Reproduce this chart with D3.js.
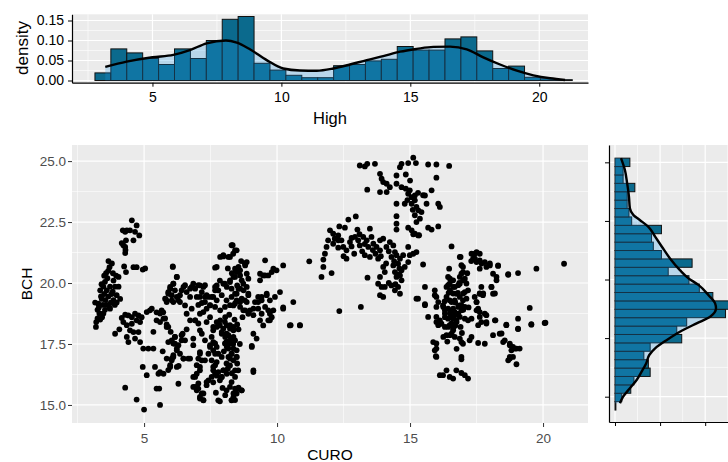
<!DOCTYPE html>
<html>
<head>
<meta charset="utf-8">
<script src="https://cdn.jsdelivr.net/npm/d3@7"></script>
<style>
  body { margin: 0; background: #fff; }
  svg { display: block; font-family: "Liberation Sans", Arial, Helvetica, sans-serif; }
</style>
</head>
<body>
<svg id="chart" width="728" height="462"></svg>
<script>
// ---- Histogram of "High" (30 bins) ----
const highBinStart = 2.77;
const highBinWidth = 0.617;
const highDensity = [0.019, 0.079, 0.069, 0.055, 0.040, 0.079, 0.055, 0.100, 0.153, 0.160,
                     0.043, 0.026, 0.013, 0.007, 0.007, 0.037, 0.040, 0.049, 0.053, 0.085,
                     0.076, 0.076, 0.104, 0.109, 0.074, 0.030, 0.036, 0.008, 0.0045, 0.002];
// kernel density estimate of "High"
const highCurveX = [3.17, 4.0, 5.0, 5.81, 6.45, 7.1, 7.85, 8.27, 8.78, 9.43, 10.07, 10.72, 11.37,
                    12.01, 12.66, 13.31, 13.95, 14.6, 15.25, 15.89, 16.54, 17.19, 17.83, 18.48,
                    19.13, 19.77, 20.42, 21.0];
const highCurveD = [0.034, 0.047, 0.058, 0.064, 0.076, 0.093, 0.1, 0.0946, 0.078, 0.051, 0.030, 0.025, 0.0245,
                    0.030, 0.040, 0.051, 0.061, 0.072, 0.079, 0.084, 0.0846, 0.078, 0.058, 0.040,
                    0.0245, 0.013, 0.0055, 0.0013];

// ---- Histogram of BCH (30 bins, low to high) ----
const bchBinStart = 14.43;
const bchBinWidth = 0.3583;
const bchDensity = [0.002, 0.015, 0.035, 0.042, 0.078, 0.074, 0.064, 0.078, 0.148, 0.137,
                    0.159, 0.245, 0.270, 0.217, 0.187, 0.164, 0.118, 0.171, 0.103, 0.085,
                    0.081, 0.103, 0.037, 0.031, 0.027, 0.027, 0.044, 0.018, 0.018, 0.033];
const bchCurveV = [14.72, 15.0, 15.36, 15.71, 16.07, 16.42, 16.78, 17.06, 17.42, 17.77, 18.13, 18.41,
                   18.77, 18.98, 19.34, 19.77, 20.05, 20.4, 20.9, 21.4, 21.83, 22.25, 22.54, 22.75,
                   23.04, 23.53, 24.1, 24.67, 25.18];
const bchCurveD = [0.011, 0.018, 0.033, 0.048, 0.059, 0.069, 0.076, 0.089, 0.115, 0.144, 0.181, 0.211,
                   0.224, 0.222, 0.207, 0.185, 0.163, 0.144, 0.122, 0.104, 0.089, 0.074, 0.055, 0.041,
                   0.033, 0.031, 0.027, 0.022, 0.0133];

// ---- Scatter: [CURO, BCH] ----
const curoBch = [
  [3.19,18.2],[3.2,18.4],[3.25,18.55],[3.32,18.75],[3.16,19.2],[3.28,19.15],[3.41,19.35],[3.35,19.7],[3.47,19.85],[3.4,19.95],
  [3.53,20.05],[3.62,20.2],[3.57,20.4],[3.7,20.65],[3.66,20.9],[3.72,19.85],[3.78,19.55],[3.85,19.3],[3.66,19.45],[3.6,19.1],
  [3.72,18.95],[3.9,19.1],[3.97,19.2],[3.85,20.1],[3.95,20.3],[3.91,19.85],[4.04,19.85],[3.91,17.92],[4.07,18.1],[4.04,20.25],
  [3.35,18.5],[3.47,18.75],[3.53,18.9],[3.97,19.5],[4.1,19.35],[3.83,20.4],[3.79,20.8],[3.5,19.55],[3.6,19.7],[3.3,19.0],
  [3.45,19.1],[3.75,19.2],[3.55,19.3],[3.38,19.45],[3.5,20.3],[3.65,20.5],[3.82,19.65],[3.7,19.0],[3.25,18.9],[3.42,18.6],
  [4.16,21.64],[4.29,22.1],[4.2,22.16],[4.35,22.16],[4.47,22.16],[4.32,21.75],[4.29,21.48],[4.29,21.23],[4.25,20.68],[4.32,20.45],
  [4.54,22.57],[4.72,22.36],[4.66,22.1],[4.82,21.95],[4.6,21.75],[4.6,20.65],[4.72,20.65],[4.95,20.55],[5.04,20.6],[4.3,21.35],[4.22,21.55],
  [4.16,18.57],[4.29,18.7],[4.41,18.67],[4.54,18.6],[4.66,18.74],[4.79,18.67],[4.91,18.6],[4.22,18.4],[4.35,18.27],[4.54,18.33],
  [4.72,18.47],[4.85,18.4],[4.47,18.06],[4.6,17.99],[4.35,17.79],[4.66,17.72],[4.85,17.58],[4.97,17.31],[5.16,17.31],[5.35,17.31],
  [4.41,17.58],[4.79,17.99],[5.1,18.81],[5.29,18.95],[4.29,15.71],[4.72,15.22],[5.0,14.81],[4.95,16.56],[5.1,16.22],
  [5.22,18.88],[5.47,18.8],[5.6,18.75],[5.72,18.8],[5.79,18.55],[5.6,18.4],[5.47,18.47],[5.35,18.0],[5.85,18.3],[5.91,18.2],
  [5.41,16.56],[5.54,16.28],[5.6,16.35],[5.73,16.28],[5.47,15.67],[5.57,15.67],[5.6,15.0],[5.91,16.43],[5.98,16.56],[6.04,16.83],
  [6.1,16.97],[6.29,15.87],[5.91,17.58],[6.04,17.65],[6.16,17.51],[6.16,17.79],[6.23,17.31],[6.35,17.1],[6.41,17.65],[6.45,17.92],
  [6.54,17.65],[6.66,16.9],[6.48,16.9],[5.7,17.2],[5.85,16.9],[6.3,16.6],[6.0,18.0],[6.6,18.1],
  [6.08,20.66],[6.23,20.25],[5.98,19.84],[5.91,19.63],[5.83,19.32],[6.04,19.5],[6.1,19.97],[6.16,19.7],[6.1,19.22],[6.29,19.29],
  [6.35,19.5],[6.48,19.84],[6.6,19.63],[6.79,19.84],[6.92,19.77],[6.73,19.43],[6.54,19.08],[6.6,18.74],[6.79,18.95],[6.98,19.43],
  [7.1,19.9],[7.23,19.84],[7.04,19.1],[7.17,19.18],[7.29,19.43],[6.92,18.47],[7.1,18.74],[7.23,18.81],[7.35,18.95],[7.48,19.08],
  [7.42,19.43],[7.6,19.43],[7.67,19.7],[7.73,19.9],[7.85,20.1],[7.98,19.97],[7.73,20.66],[7.86,21.07],[7.98,21.14],[8.23,21.07],
  [8.33,21.55],[8.48,21.34],[8.35,21.2],[8.42,20.59],[8.55,20.66],[8.8,20.72],[8.86,20.86],[8.48,20.45],[8.61,20.31],[8.67,20.11],
  [8.36,20.25],[8.23,20.04],[8.11,19.84],[8.29,19.77],[8.42,19.56],[8.55,19.77],[8.74,19.7],[8.86,19.84],[8.92,19.5],[8.86,19.22],
  [8.67,19.36],[8.48,19.29],[8.36,19.08],[8.61,19.02],[8.8,18.88],[8.98,18.88],[9.11,18.95],[9.17,19.22],[9.29,19.43],[9.42,19.29],
  [9.61,19.5],[9.55,19.02],[9.29,18.95],[9.42,18.74],[9.73,18.74],[9.48,18.26],[9.67,18.47],[9.8,18.6],[9.86,18.88],[9.73,19.29],
  [9.92,19.43],[9.36,20.11],[9.48,20.31],[9.67,20.31],[9.55,20.93],[9.8,20.45],[9.98,20.52],[10.23,20.72],[10.11,19.63],[10.23,18.95],
  [10.48,18.26],[10.61,19.22],[10.86,18.26],[9.11,17.92],[9.05,17.42],[9.11,16.42],
  [7.6,18.2],[7.73,18.4],[7.85,18.26],[7.98,18.13],[8.11,18.26],[8.23,18.13],[8.36,18.2],[7.92,17.92],[8.05,17.79],[8.17,17.86],
  [8.29,17.72],[8.42,17.65],[8.23,17.51],[8.11,17.38],[8.36,17.31],[8.48,17.24],[8.29,17.1],[8.17,16.97],[8.36,16.83],[8.48,16.97],
  [8.23,16.62],[8.42,16.42],[8.11,16.28],[7.92,16.15],[7.98,16.42],[7.85,16.01],[7.73,16.2],[7.6,15.93],[8.42,15.67],[8.55,15.71],
  [8.67,15.6],[8.36,15.47],[8.29,15.2],[8.42,15.2],[7.6,17.58],[7.48,17.38],[7.73,17.38],[7.67,17.1],[7.54,16.83],[7.42,17.1],
  [7.29,16.83],[7.17,16.83],[7.1,17.1],[7.1,16.56],[6.98,16.28],[6.85,16.15],[6.92,15.74],[7.04,15.67],[7.17,15.47],[7.1,15.26],
  [7.23,15.2],[7.35,15.81],[7.42,16.01],[7.85,15.15],[7.6,16.42],[7.67,16.63],[7.17,17.92],[7.29,17.65],[7.35,18.4],[7.48,18.6],
  [8.05,18.6],[8.2,18.7],[8.4,18.5],[8.5,18.3],[8.1,17.6],[8.35,17.5],[8.0,17.2],[8.15,16.5],[8.3,16.3],[7.95,15.7],
  [8.05,15.4],[7.7,15.5],[8.5,16.7],[8.6,17.5],[8.55,18.1],[8.7,18.6],[8.5,19.9],[8.3,20.4],[8.15,20.6],[8.65,20.9],
  [8.29,21.55],[8.42,21.34],[7.98,21.09],[8.17,21.07],[7.67,20.63],[6.08,20.68],[6.23,20.25],[6.1,19.97],[5.98,19.77],[5.91,19.56],
  [5.79,19.36],[5.85,19.22],[6.04,19.29],[6.23,19.43],[6.35,19.22],[6.41,19.7],[6.54,19.91],[6.73,19.77],[6.85,19.97],[7.04,19.91],
  [7.29,19.91],[7.67,19.84],[7.79,19.7],[8.04,19.97],[8.23,20.11],[8.42,20.25],[8.61,20.52],[8.79,20.8],[8.86,20.38],[8.92,20.18],
  [8.73,19.97],[8.61,19.77],[8.48,19.56],[8.29,19.43],[8.1,19.29],[7.92,19.5],[7.73,19.29],[7.54,19.43],[7.35,19.5],[7.17,19.63],
  [7.1,19.43],[7.29,19.22],[7.48,19.09],[7.67,19.02],[7.86,18.88],[8.04,19.02],[8.23,19.09],[8.42,19.16],[8.61,19.22],[8.79,19.29],
  [8.92,19.56],[8.73,18.88],[8.92,18.74],[9.11,18.68],[9.29,19.22],[9.42,19.43],[9.36,20.38],[9.55,20.31],[9.86,20.59],[9.61,19.56],
  [9.67,18.88],[9.73,18.47],[9.36,18.47],[9.23,17.72],[9.05,17.38],[9.11,16.35],[10.51,18.27],[10.86,18.27],
  [5.66,18.88],[5.73,18.54],[5.85,18.2],[6.16,17.79],[6.1,17.52],[6.29,17.45],[6.41,17.86],[6.23,17.24],[6.1,17.04],[6.04,16.9],
  [5.98,16.63],[6.23,16.56],[6.48,16.9],[6.73,16.9],[6.85,17.72],[6.85,17.45],[6.73,18.47],[6.92,18.47],[7.04,18.34],[7.1,18.06],
  [7.1,17.17],[7.04,16.9],[6.98,16.63],[7.1,16.42],[6.92,16.15],[7.04,15.88],[6.85,15.74],[6.98,15.6],[7.23,15.47],[7.1,15.33],
  [7.23,15.19],[7.79,15.19],[7.35,15.94],[7.54,16.15],[7.67,16.29],[7.6,16.56],[7.79,16.35],[7.92,16.15],[7.98,16.42],[8.1,16.7],
  [8.23,16.9],[8.29,17.1],[8.17,17.31],[8.04,17.52],[8.23,17.65],[8.36,17.79],[8.1,17.92],[7.92,17.99],[7.73,18.2],[7.6,18.06],
  [7.54,17.79],[7.67,17.52],[7.48,17.45],[7.6,17.24],[7.79,17.1],[7.92,16.97],[7.73,16.76],[7.86,18.47],[8.04,18.4],[8.23,18.27],
  [8.36,18.06],[8.48,16.97],[8.54,16.42],[8.42,16.15],[8.29,15.94],[8.23,15.74],[8.54,15.67],[8.67,15.6],[8.48,15.47],[8.36,15.33],
  [8.29,15.19],[8.1,15.6],
  [10.23,19.0],[11.21,20.89],[11.67,20.25],[11.74,20.66],[11.74,20.96],[12.05,20.41],[12.34,18.85],[13.15,19.02],
  [11.99,22.16],[12.11,22.02],[12.34,22.32],[12.68,22.6],[12.96,22.73],[12.55,22.27],[11.92,21.75],[11.86,21.48],[11.8,21.2],[12.11,21.61],
  [12.17,21.82],[12.3,21.75],[12.42,21.75],[12.49,21.48],[12.74,21.68],[12.61,21.34],[12.61,21.0],[12.93,21.89],[13.05,21.75],[13.11,21.54],
  [13.02,22.19],[13.24,21.89],[13.37,21.75],[13.49,22.23],[13.55,21.89],[13.62,21.61],[13.43,21.48],[13.3,21.14],[13.49,21.07],[13.74,21.48],
  [13.87,21.75],[13.99,21.82],[14.11,21.48],[13.87,21.34],[13.8,21.0],[14.24,21.68],[14.37,21.54],[14.43,21.27],[14.3,21.07],[14.49,21.14],
  [13.99,20.66],[14.05,20.45],[14.37,20.72],[14.55,20.79],[14.62,21.0],[14.74,21.14],[14.93,21.48],[14.99,21.14],[15.12,21.2],[15.24,21.27],
  [14.93,20.86],[14.8,20.66],[14.68,20.52],[14.43,20.45],[14.62,20.31],[14.49,20.25],[14.68,20.11],[14.55,19.84],[14.62,19.56],[13.87,20.25],
  [13.93,19.84],[14.05,19.84],[13.87,19.5],[13.99,19.43],[14.3,19.9],[14.43,19.7],[13.4,20.22],[13.8,19.97],
  [12.8,21.5],[12.9,21.2],[13.2,21.3],[12.3,21.95],[13.7,21.2],[14.2,21.3],[14.6,20.6],[14.2,20.0],
  [12.3,21.45],[12.5,21.1],[12.8,21.85],[13.1,22.0],[13.3,21.6],[13.6,21.35],[13.9,21.1],[14.1,20.8],[14.4,20.9],[14.55,20.35],[14.45,19.95],
  [13.11,24.82],[13.3,24.78],[13.39,24.89],[13.68,24.89],[13.39,23.83],[13.87,24.48],[13.93,24.28],[13.99,24.14],[14.12,24.07],[14.24,23.93],
  [13.87,23.73],[14.12,23.73],[14.49,24.41],[14.62,24.75],[14.68,24.89],[14.93,24.92],[15.12,25.14],[15.22,24.92],[14.84,24.45],[14.49,24.07],
  [14.68,23.93],[14.84,23.87],[14.99,23.8],[14.93,23.66],[15.06,23.52],[15.18,23.39],[15.18,23.59],[14.49,23.25],[14.8,23.25],[15.06,23.25],
  [15.24,23.12],[15.31,22.98],[15.43,22.91],[15.62,23.25],[15.56,23.59],[15.81,23.8],[15.99,24.32],[15.68,24.86],[15.99,24.86],[16.47,24.8],
  [16.06,23.25],[16.12,23.12],[15.18,22.78],[15.37,22.64],[15.24,22.5],[14.93,22.27],[14.49,22.74],[14.49,22.43],[14.49,22.19],[15.06,22.16],
  [15.18,22.02],[15.31,21.95],[15.68,22.27],[15.81,22.19],[16.06,22.32],[15.49,23.6],[15.12,22.0],[15.34,21.96],
  [15.0,24.2],[14.9,23.4],[15.1,23.0],[15.3,23.7],
  [16.56,21.5],[16.87,21.07],[17.31,21.2],[17.5,21.27],[17.62,21.2],[17.44,21.0],[17.62,20.93],[17.81,20.86],[18.0,20.72],[17.87,20.66],
  [18.31,20.72],[18.12,20.38],[18.25,20.25],[18.69,20.36],[19.06,20.41],[19.75,20.59],[20.79,20.79],[15.49,20.76],[15.56,19.84],[15.24,19.36],
  [15.56,19.13],[15.68,18.61],[15.93,19.7],[15.99,19.43],[15.99,19.02],[15.99,18.4],[16.06,18.27],[15.87,17.58],[15.99,17.31],[15.97,17.0],
  [16.12,16.22],[16.24,16.22],[16.37,16.42],[16.49,16.15],[16.62,16.08],[16.74,16.42],[16.93,16.31],[17.06,16.22],[17.18,16.08],[16.93,16.87],
  [16.47,20.59],[16.43,20.25],[16.49,19.97],[16.37,19.84],[16.62,20.11],[16.68,19.84],[16.74,19.56],[16.37,19.43],[16.49,19.29],[16.24,19.08],
  [16.31,18.88],[16.43,18.95],[16.56,18.88],[16.68,18.81],[16.81,18.74],[16.93,18.88],[16.87,19.08],[16.99,19.29],[17.06,19.63],[16.99,20.11],
  [16.93,20.38],[16.99,20.66],[16.87,19.97],[16.31,18.6],[16.43,18.54],[16.62,18.54],[16.74,18.47],[16.18,18.33],[16.31,18.2],[16.49,18.27],
  [16.62,18.13],[16.56,17.92],[16.37,17.86],[16.68,17.79],[16.87,17.72],[16.99,17.51],[17.24,17.65],[17.18,18.47],[17.31,18.54],[17.5,18.88],
  [17.5,19.22],[17.62,19.56],[17.74,19.5],[17.68,19.84],[18.06,19.84],[18.12,19.56],[17.62,18.81],[17.81,18.74],[17.87,18.4],[17.68,18.4],
  [17.81,17.51],[18.12,17.86],[18.37,17.92],[18.56,17.65],[18.75,17.51],[18.87,17.38],[19.0,17.31],[19.12,17.31],[18.81,17.24],[18.75,16.97],
  [18.69,16.83],[19.0,16.67],[18.62,18.29],[19.06,18.13],[19.5,18.98],[19.56,18.29],[20.09,18.37],[18.21,18.47],
  [17.43,21.2],[17.37,21.0],[17.5,20.86],[17.69,20.8],[18.0,20.8],[17.62,20.59],[16.93,20.73],[16.99,20.45],[16.87,20.25],[17.06,20.18],
  [16.5,20.18],[16.43,19.91],[16.62,19.84],[16.81,19.91],[17.12,19.98],[17.18,19.7],[17.0,19.57],[16.62,19.57],[16.5,19.7],[16.56,19.22],
  [16.68,19.29],[16.87,19.43],[17.12,19.36],[16.93,19.09],[17.06,19.02],[16.81,19.02],[16.62,18.95],[16.25,19.02],[16.31,18.75],[16.5,18.75],
  [16.68,18.68],[16.87,18.61],[17.06,18.54],[16.75,18.4],[16.56,18.34],[16.43,18.2],[16.62,18.06],[16.5,17.86],[15.93,19.5],[16.06,19.22],
  [15.99,18.61],[16.12,18.47],[17.43,19.43],[17.62,19.57],[17.75,19.57],[18.19,19.57],[17.5,19.22],[17.56,18.95],[17.62,18.61],[17.87,18.68],
  [17.56,18.27],[17.87,18.34],[18.19,18.47],[18.62,18.27],[19.06,18.11],[19.56,18.31],[20.06,18.36],[19.06,18.54],[18.69,20.34],[18.31,20.7],
  [18.25,20.11],[18.06,19.84],[16.93,17.58],[17.31,17.79],[17.56,17.54],[18.44,17.93],[18.5,17.58],[18.75,17.45],[18.94,17.31],[18.87,16.97],
  [18.75,16.9],[15.99,17.52],[15.93,17.24],[15.99,16.97],[16.93,16.97],[16.25,17.79],[15.3,19.36],[15.56,19.09],[16.9,21.07],
  [16.7,19.2],[16.8,19.6],[16.55,18.6],[16.7,18.25],[16.9,18.2],[17.0,18.9],[16.45,19.6],[16.3,19.25],[17.2,19.0],[16.95,17.95],
  [16.4,17.6],[16.75,17.3],[16.85,20.0],[17.15,20.4],[17.3,20.9]
];

// ---- Tick values ----
const highTicksX = [5, 10, 15, 20];
const highTicksY = [0, 0.05, 0.10, 0.15];
const curoTicks = [5, 10, 15, 20];
const bchTicks = [15, 17.5, 20, 22.5, 25];
const sideTicksX = [0, 0.1, 0.2];

// ---- Layout ----
const svg = d3.select("#chart");
const topP  = { l: 72,  r: 588, t: 14.3, b: 82.7 };
const mainP = { l: 72,  r: 588, t: 145,  b: 423 };
const sideP = { l: 609, r: 745, t: 145,  b: 422 };

const xTop  = d3.scaleLinear().domain([1.88, 21.89]).range([topP.l, topP.r]);
const yTop  = d3.scaleLinear().domain([-0.0055, 0.1655]).range([topP.b, topP.t]);
const xMain = d3.scaleLinear().domain([2.29, 21.69]).range([mainP.l, mainP.r]);
const yMain = d3.scaleLinear().domain([14.26, 25.66]).range([mainP.b, mainP.t]);
const xSide = d3.scaleLinear().domain([-0.0133, 0.2883]).range([sideP.l, sideP.r]);
const ySide = d3.scaleLinear().domain([13.92, 25.74]).range([sideP.b, sideP.t]);

const BG = "#ebebeb";
const BAR = "#0b6a8d";
const DENS_FILL = "rgba(32,152,232,0.25)";

// panel background + white grid
function panel(p, xs, ys, xMajor, yMajor, xMinor, yMinor) {
  const g = svg.append("g");
  g.append("rect").attr("x", p.l).attr("y", p.t)
    .attr("width", p.r - p.l).attr("height", p.b - p.t).attr("fill", BG);
  g.selectAll(".vmin").data(xMinor.filter(v => xs(v) >= p.l && xs(v) <= p.r)).join("line")
    .attr("x1", d => xs(d)).attr("x2", d => xs(d)).attr("y1", p.t).attr("y2", p.b)
    .attr("stroke", "#fff").attr("stroke-width", 0.6);
  g.selectAll(".hmin").data(yMinor.filter(v => ys(v) >= p.t && ys(v) <= p.b)).join("line")
    .attr("y1", d => ys(d)).attr("y2", d => ys(d)).attr("x1", p.l).attr("x2", p.r)
    .attr("stroke", "#fff").attr("stroke-width", 0.6);
  g.selectAll(".vmaj").data(xMajor).join("line")
    .attr("x1", d => xs(d)).attr("x2", d => xs(d)).attr("y1", p.t).attr("y2", p.b)
    .attr("stroke", "#fff").attr("stroke-width", 1.2);
  g.selectAll(".hmaj").data(yMajor).join("line")
    .attr("y1", d => ys(d)).attr("y2", d => ys(d)).attr("x1", p.l).attr("x2", p.r)
    .attr("stroke", "#fff").attr("stroke-width", 1.2);
  return g;
}

// ===== Top marginal: histogram + density of High =====
panel(topP, xTop, yTop, highTicksX, highTicksY,
      [2.5, 7.5, 12.5, 17.5], [0.025, 0.075, 0.125]);

const gTop = svg.append("g");
gTop.selectAll("rect.bar").data(highDensity).join("rect")
  .attr("class", "bar")
  .attr("x", (d, i) => xTop(highBinStart + i * highBinWidth))
  .attr("width", (d, i) => xTop(highBinStart + (i + 1) * highBinWidth) - xTop(highBinStart + i * highBinWidth))
  .attr("y", d => yTop(d))
  .attr("height", d => yTop(0) - yTop(d))
  .attr("fill", BAR).attr("stroke", "#111").attr("stroke-width", 1);

const highCurve = highCurveX.map((x, i) => [x, highCurveD[i]]);
gTop.append("path").datum(highCurve)
  .attr("d", d3.area().x(d => xTop(d[0])).y0(yTop(0)).y1(d => yTop(d[1])).curve(d3.curveMonotoneX))
  .attr("fill", DENS_FILL);
gTop.append("path").datum(highCurve)
  .attr("d", d3.line().x(d => xTop(d[0])).y(d => yTop(d[1])).curve(d3.curveMonotoneX))
  .attr("fill", "none").attr("stroke", "#000").attr("stroke-width", 2.4);

const axTopY = svg.append("g").attr("transform", `translate(${topP.l},0)`)
  .call(d3.axisLeft(yTop).tickValues(highTicksY).tickFormat(d3.format(".2f")).tickSize(4).tickSizeOuter(0).tickPadding(4));
const axTopX = svg.append("g").attr("transform", `translate(0,${topP.b})`)
  .call(d3.axisBottom(xTop).tickValues(highTicksX).tickSize(4).tickSizeOuter(0).tickPadding(5));
[axTopY, axTopX].forEach(a => {
  a.select(".domain").attr("stroke", "#000").attr("stroke-width", 1.2);
  a.selectAll(".tick line").attr("stroke", "#000").attr("stroke-width", 1);
  a.selectAll(".tick text").attr("fill", "#000").style("font-size", "14px");
});

svg.append("text").attr("transform", "translate(28,48) rotate(-90)")
  .attr("text-anchor", "middle").style("font-size", "17px").text("density");
svg.append("text").attr("x", 330).attr("y", 124)
  .attr("text-anchor", "middle").style("font-size", "16.5px").text("High");

// ===== Main scatter: CURO vs BCH =====
panel(mainP, xMain, yMain, curoTicks, bchTicks,
      [2.5, 7.5, 12.5, 17.5], [16.25, 18.75, 21.25, 23.75]);

svg.append("g").selectAll("circle").data(curoBch).join("circle")
  .attr("cx", d => xMain(d[0])).attr("cy", d => yMain(d[1]))
  .attr("r", 2.9).attr("fill", "#000");

const axMainY = svg.append("g").attr("transform", `translate(${mainP.l},0)`)
  .call(d3.axisLeft(yMain).tickValues(bchTicks).tickFormat(d3.format(".1f")).tickSize(4).tickPadding(2));
const axMainX = svg.append("g").attr("transform", `translate(0,${mainP.b})`)
  .call(d3.axisBottom(xMain).tickValues(curoTicks).tickFormat(d3.format("d")).tickSize(4).tickPadding(6));
[axMainY, axMainX].forEach(a => {
  a.select(".domain").remove();
  a.selectAll(".tick line").attr("stroke", "#333").attr("stroke-width", 1);
  a.selectAll(".tick text").attr("fill", "#4d4d4d").style("font-size", "13.5px");
});

svg.append("text").attr("transform", "translate(31.5,284) rotate(-90)")
  .attr("text-anchor", "middle").style("font-size", "15.5px").text("BCH");
svg.append("text").attr("x", 330).attr("y", 459.5)
  .attr("text-anchor", "middle").style("font-size", "15.5px").text("CURO");

// ===== Right marginal: horizontal histogram + density of BCH =====
panel(sideP, xSide, ySide, sideTicksX, bchTicks,
      [0.05, 0.15, 0.25], [16.25, 18.75, 21.25, 23.75]);

const gSide = svg.append("g");
gSide.selectAll("rect.bar").data(bchDensity).join("rect")
  .attr("class", "bar")
  .attr("x", xSide(0))
  .attr("width", d => xSide(d) - xSide(0))
  .attr("y", (d, i) => ySide(bchBinStart + (i + 1) * bchBinWidth))
  .attr("height", (d, i) => ySide(bchBinStart + i * bchBinWidth) - ySide(bchBinStart + (i + 1) * bchBinWidth))
  .attr("fill", BAR).attr("stroke", "#111").attr("stroke-width", 1);

const bchCurve = bchCurveV.map((v, i) => [v, bchCurveD[i]]);
gSide.append("path").datum(bchCurve)
  .attr("d", d3.area().y(d => ySide(d[0])).x0(xSide(0)).x1(d => xSide(d[1])).curve(d3.curveMonotoneY))
  .attr("fill", DENS_FILL);
gSide.append("path").datum(bchCurve)
  .attr("d", d3.line().y(d => ySide(d[0])).x(d => xSide(d[1])).curve(d3.curveMonotoneY))
  .attr("fill", "none").attr("stroke", "#000").attr("stroke-width", 2.4);

const axSideY = svg.append("g").attr("transform", `translate(${sideP.l},0)`)
  .call(d3.axisLeft(ySide).tickValues(bchTicks).tickFormat("").tickSize(4).tickSizeOuter(0));
const axSideX = svg.append("g").attr("transform", `translate(0,${sideP.b})`)
  .call(d3.axisBottom(xSide).tickValues(sideTicksX).tickFormat("").tickSize(4).tickSizeOuter(0));
[axSideY, axSideX].forEach(a => {
  a.select(".domain").attr("stroke", "#000").attr("stroke-width", 1.2);
  a.selectAll(".tick line").attr("stroke", "#000").attr("stroke-width", 1);
});
</script>
</body>
</html>
